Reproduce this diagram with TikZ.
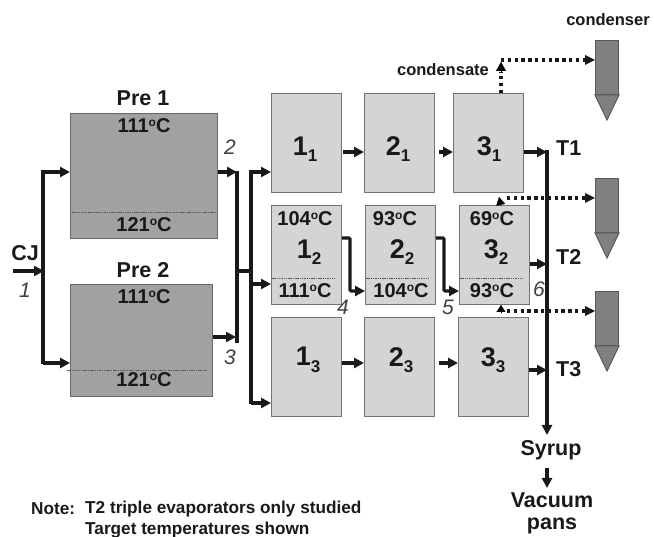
\documentclass[tikz,border=0pt]{standalone}
\usepackage{fontspec}
\setmainfont{Liberation Sans}
\usetikzlibrary{arrows.meta,calc}
\newcommand{\fs}[1]{\fontsize{#1}{#1}\selectfont\bfseries}
\newcommand{\degc}{\raisebox{6.5pt}{\fontsize{12}{12}\selectfont\bfseries o}C}
\newcommand{\lbl}[2]{#1\raisebox{-6.5pt}{\fontsize{17}{17}\selectfont\bfseries #2}}
\tikzset{
 pre/.style={draw=black!60,line width=1pt,fill=black!37,anchor=north west,inner sep=0pt,minimum width=#1},
 evap/.style={draw=black!55,line width=1pt,fill=black!17,anchor=north west,inner sep=0pt,minimum width=70pt,minimum height=99pt},
 flow/.style={line width=3.1pt,-{Triangle[length=10pt,width=10pt]},black!90},
 plainflow/.style={line width=3.1pt,black!90},
 steam/.style={line width=3.4pt,dash pattern=on 3.4pt off 3.4pt,black!90},
 tipped/.style={steam,-{Triangle[length=10pt,width=10pt,line width=0pt]}},
 inner/.style={line width=.5pt,dash pattern=on 1.5pt off .8pt,black!65},
 temp/.style={font=\fs{20},black!90,inner sep=0pt},
 num/.style={font=\fs{27},black!90,inner sep=0pt},
 tag/.style={font=\fs{21.5},black!90,inner sep=0pt},
 small/.style={font=\fs{16.5},black!90,inner sep=0pt},
 note/.style={font=\fs{17.2},black!90,inner sep=0pt,anchor=west},
 idx/.style={font=\fontsize{21}{21}\selectfont\itshape,black!75,inner sep=0pt},
 condbody/.style={draw=black!65,line width=1pt,fill=black!50,anchor=north west,inner sep=0pt,minimum width=23pt,minimum height=54pt},
 condtip/.style={draw=black!65,line width=1pt,fill=black!50}
}
\begin{document}
\begin{tikzpicture}[x=1pt,y=-1pt]
\useasboundingbox (0,0) rectangle (654,537);
% preheaters
\node[pre=147pt,minimum height=125pt] (p1) at (70,113) {};
\node[pre=142pt,minimum height=112pt] (p2) at (70,284) {};
\draw[inner] (72,212) -- (216,212);
\draw[inner] (67,370) -- (207,370);
% evaporators
\node[evap] (e11) at (271,93) {};
\node[evap] (e21) at (364,93) {};
\node[evap] (e31) at (453,93) {};
\node[evap] (e12) at (271,205) {};
\node[evap] (e22) at (365,205) {};
\node[evap] (e32) at (459,205) {};
\node[evap] (e13) at (271,317) {};
\node[evap] (e23) at (364,317) {};
\node[evap] (e33) at (458,317) {};
\draw[inner] (272,278) -- (335,278);
\draw[inner] (366,278) -- (429,278);
\draw[inner] (460,278) -- (523,278);
% condensers
\foreach \n/\y in {a/40,b/178,c/291}{
 \node[condbody] (cd\n) at (595,\y) {};
 \draw[condtip] (cd\n.south west) -- (cd\n.south east) -- ($(cd\n.south)+(0,25)$) -- cycle;
}
% coordinates
\coordinate (cjs) at (13,271);
\coordinate (cjj) at (43,271);
\coordinate (j1t) at (43,172);
\coordinate (j1b) at (43,363);
\coordinate (j2t) at (237,172);
\coordinate (j2b) at (237,343);
\coordinate (j2m) at (237,271);
\coordinate (j3m) at (251,271);
\coordinate (j3t) at (251,172);
\coordinate (j3b) at (251,403);
\coordinate (main) at (547,152);
\coordinate (mainend) at (547,435);
\coordinate (sy) at (547,468);
\coordinate (vp) at (547,488);
\coordinate (c1) at (501,60);
\coordinate (c2) at (501,198);
\coordinate (c3) at (501,311);
% condensate (under the main line)
\draw[steam] (e31.north-|c1) -- (501,72);
\draw[-{Triangle[length=9pt,width=10pt]},line width=.1pt] (501,71) -- (501,62);
\draw[tipped] (c1) -- (cda.west|-c1);
\draw[tipped] (507,198) -- (cdb.west|-c2);
\draw[tipped] (507,311) -- (cdc.west|-c3);
\draw[-{Triangle[length=8pt,width=9pt]},line width=.1pt] (501,206) -- (499,197);
\draw[-{Triangle[length=7pt,width=9pt]},line width=.1pt] (501,312) -- (501,305);
% feed
\draw[flow,shorten >=-1pt] (cjs) -- (cjj);
\draw[plainflow] (43,170.5) -- (43,364.5);
\draw[flow] (j1t) -- (p1.west|-j1t);
\draw[flow] (j1b) -- (p2.west|-j1b);
\draw[flow] (p1.east|-j2t) -- (j2t);
\draw[flow] (p2.east|-0,337) -- (236,337);
\draw[plainflow] (237,171) -- (j2b);
\draw[plainflow] (j2m) -- (j3m);
\draw[plainflow] (251,170.5) -- (251,404.5);
\draw[flow] (j3t) -- (e11.west|-j3t);
\draw[flow] (251,284) -- (e12.west|-0,284);
\draw[flow] (j3b) -- (e13.west|-j3b);
% row 1
\draw[flow] (343,152) -- (e21.west|-0,152);
\draw[flow] (439,152) -- (e31.west|-0,152);
\draw[flow] (e31.east|-main) -- (main);
% row 2
\draw[flow,rounded corners=1pt] (e12.east|-0,238) -- (350,238) -- (350,291) -- (e22.west|-0,291);
\draw[flow,rounded corners=1pt] (e22.east|-0,238) -- (444,238) -- (444,291) -- (e32.west|-0,291);
\draw[flow] (e32.east|-0,264) -- (547,264);
% row 3
\draw[flow] (342,363) -- (e23.west|-0,363);
\draw[flow] (439,363) -- (e33.west|-0,363);
\draw[flow] (e33.east|-0,370) -- (547,370);
% main
\draw[flow] (547,150.5) -- (mainend);
\draw[flow] (sy) -- (vp);
% texts
\node[tag] (tp1) at (143,98) {Pre 1};
\node[tag] (tp2) at (143,270) {Pre 2};
\node[temp] (t1) at (144,126) {111\degc};
\node[temp] (t2) at (144,225) {121\degc};
\node[temp] (t3) at (144,297) {111\degc};
\node[temp] (t4) at (144,380) {121\degc};
\node[tag] (cj) at (25,253) {CJ};
\node[idx] (i1) at (25,290) {1};
\node[idx] (i2) at (230,147) {2};
\node[idx] (i3) at (230,357) {3};
\node[idx] (i4) at (343,307) {4};
\node[idx] (i5) at (448,307) {5};
\node[idx] (i6) at (539,289) {6};
\node[num] (n11) at (305,149) {\lbl{1}{1}};
\node[num] (n21) at (398,149) {\lbl{2}{1}};
\node[num] (n31) at (489,149) {\lbl{3}{1}};
\node[num] (n12) at (309,252) {\lbl{1}{2}};
\node[num] (n22) at (402,252) {\lbl{2}{2}};
\node[num] (n32) at (496,252) {\lbl{3}{2}};
\node[num] (n13) at (308,360) {\lbl{1}{3}};
\node[num] (n23) at (401,360) {\lbl{2}{3}};
\node[num] (n33) at (493,360) {\lbl{3}{3}};
\node[temp] (a1) at (305,219) {104\degc};
\node[temp] (a2) at (395,219) {93\degc};
\node[temp] (a3) at (492,219) {69\degc};
\node[temp] (b1) at (305,291) {111\degc};
\node[temp] (b2) at (401,291) {104\degc};
\node[temp] (b3) at (492,291) {93\degc};
\node[tag,anchor=west] (T1) at (556,148) {T1};
\node[tag,anchor=west] (T2) at (556,257) {T2};
\node[tag,anchor=west] (T3) at (556,369) {T3};
\node[small] (cdn) at (608,20) {condenser};
\node[small] (cdt) at (443,70) {condensate};
\node[tag] (syr) at (551,450) {Syrup};
\node[tag] (vac) at (552,500) {Vacuum};
\node[tag] (pan) at (552,526) {pans};
\node[note] (n1) at (31,509) {Note:};
\node[note] (n2) at (85,509) {T2 triple evaporators only studied};
\node[note] (n3) at (85,530) {Target temperatures shown};
\end{tikzpicture}
\end{document}
